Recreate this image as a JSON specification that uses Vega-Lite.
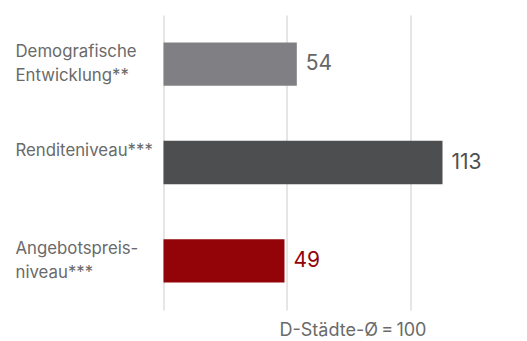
{
  "$schema": "https://vega.github.io/schema/vega-lite/v6.json",
  "autosize": {"type": "none"},
  "width": 358,
  "height": 295,
  "padding": {"left": 163.5, "top": 15, "right": 5.5, "bottom": 31},
  "background": "white",
  "config": {"view": {"stroke": null}, "font": "Inter"},
  "data": {
    "values": [
      {"kategorie": "Demografische|Entwicklung**", "wert": 54, "gruppe": "demo"},
      {"kategorie": "Renditeniveau***", "wert": 113, "gruppe": "rendite"},
      {"kategorie": "Angebotspreis-|niveau***", "wert": 49, "gruppe": "preis"}
    ]
  },
  "encoding": {
    "y": {
      "field": "kategorie",
      "type": "nominal",
      "sort": null,
      "scale": {"paddingInner": 0.56, "paddingOuter": 0.28},
      "axis": null
    }
  },
  "layer": [
    {
      "mark": {"type": "bar"},
      "encoding": {
        "x": {
          "field": "wert",
          "type": "quantitative",
          "scale": {"domain": [0, 145], "nice": false},
          "axis": {
            "values": [0, 50, 100],
            "grid": true,
            "gridColor": "#cccccc",
            "gridWidth": 1,
            "domain": false,
            "ticks": false,
            "labels": false,
            "title": "D-Städte-Ø\u2009=\u2009100",
            "titleFont": "Inter",
            "titleFontSize": 18,
            "titleFontWeight": "normal",
            "titleColor": "#6a6a6a",
            "titleX": 189,
            "titleY": 25,
            "titleAlign": "center",
            "titleBaseline": "alphabetic"
          }
        },
        "color": {
          "field": "gruppe",
          "type": "nominal",
          "scale": {"domain": ["demo", "rendite", "preis"], "range": ["#808084", "#4d4e50", "#930409"]},
          "legend": null
        }
      }
    },
    {
      "mark": {"type": "text", "align": "left", "baseline": "middle", "dx": 9, "fontSize": 21, "font": "Inter"},
      "encoding": {
        "x": {"field": "wert", "type": "quantitative"},
        "text": {"field": "wert", "type": "quantitative"},
        "color": {
          "field": "gruppe",
          "type": "nominal",
          "scale": {"domain": ["demo", "rendite", "preis"], "range": ["#666666", "#505050", "#930409"]},
          "legend": null
        }
      }
    },
    {
      "mark": {"type": "text", "align": "left", "baseline": "middle", "dx": -148, "dy": -12, "fontSize": 16.8, "font": "Inter", "lineBreak": "|", "lineHeight": 24, "color": "#6a6a6a"},
      "encoding": {
        "x": {"datum": 0, "type": "quantitative"},
        "text": {"field": "kategorie", "type": "nominal"}
      }
    }
  ],
  "resolve": {"scale": {"color": "independent"}}
}
